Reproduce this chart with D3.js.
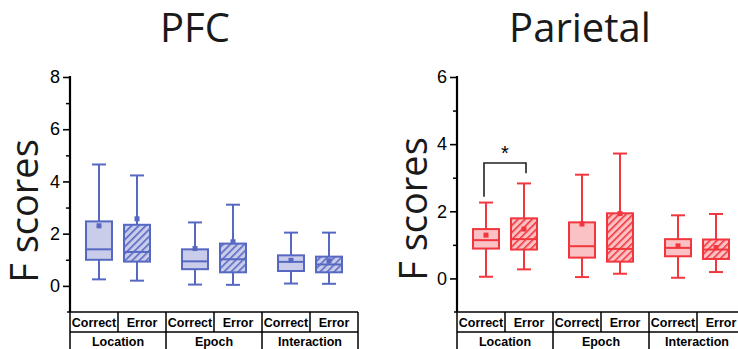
<!DOCTYPE html>
<html>
<head>
	<meta charset='utf-8'>
	<title>F scores boxplots</title>
	<script src='https://cdn.jsdelivr.net/npm/d3@7'></script>
	<style>
		body { margin: 0; background: #fff; }
	</style>
</head>
<body>
	<svg width='738' height='349'></svg>
	<script>

		// categories
		const groups = ['Location', 'Epoch', 'Interaction']
		const conditions = ['Correct', 'Error']

		// PFC box stats, order: Location C/E, Epoch C/E, Interaction C/E
		const pfcHigh = [4.65, 4.23, 2.43, 3.11, 2.04, 2.04]
		const pfcQ3 = [2.47, 2.34, 1.40, 1.62, 1.17, 1.12]
		const pfcMedian = [1.40, 1.30, 0.94, 1.02, 0.92, 0.82]
		const pfcQ1 = [1.00, 0.93, 0.64, 0.52, 0.57, 0.52]
		const pfcLow = [0.25, 0.20, 0.05, 0.04, 0.09, 0.08]
		const pfcMean = [2.30, 2.57, 1.43, 1.69, 0.98, 0.96]

		// Parietal box stats
		const parHigh = [2.26, 2.83, 3.09, 3.72, 1.88, 1.92]
		const parQ3 = [1.47, 1.79, 1.67, 1.94, 1.17, 1.16]
		const parMedian = [1.14, 1.17, 0.96, 0.88, 0.91, 0.86]
		const parQ1 = [0.89, 0.86, 0.62, 0.50, 0.66, 0.58]
		const parLow = [0.05, 0.27, 0.04, 0.14, 0.02, 0.19]
		const parMean = [1.29, 1.47, 1.62, 1.93, 0.97, 0.92]

		// tick labels
		const pfcTicks = [0, 2, 4, 6, 8]
		const parTicks = [0, 2, 4, 6]

		// significance bracket (Parietal, Location correct vs error)
		const sigTop = 3.44, sigLeft = 2.43, sigRight = 3.13

		const svg = d3.select('svg')

		const defs = svg.append('defs')
		function hatch(id, bg, line) {
			const p = defs.append('pattern').attr('id', id)
				.attr('patternUnits', 'userSpaceOnUse')
				.attr('width', 5).attr('height', 5)
				.attr('patternTransform', 'rotate(45)')
			p.append('rect').attr('width', 5).attr('height', 5).attr('fill', bg)
			p.append('line').attr('x1', 0).attr('y1', 0).attr('x2', 0).attr('y2', 5)
				.attr('stroke', line).attr('stroke-width', 3.2)
		}
		hatch('hatchBlue', '#c9cdea', '#5668c2')
		hatch('hatchRed', '#fac2c4', '#f2363e')

		const axisTop = 77, axisBottom = 312, rowH = 20

		function panel(opt) {
			const g = svg.append('g')
			const y = d3.scaleLinear().domain([-1, opt.max]).range([axisBottom, axisTop])
			const xGroup = d3.scaleBand().domain(groups).range([opt.x0, opt.x0 + 288])
			const xCond = d3.scalePoint().domain(conditions).range([0, xGroup.bandwidth()]).padding(0.763)

			// title
			g.append('text').attr('x', opt.titleX).attr('y', 42)
				.attr('text-anchor', 'middle')
				.style('font-family', '"Open Sans", sans-serif')
				.style('font-size', '40px').attr('fill', '#1a1a1a')
				.text(opt.title)

			// y label
			g.append('text')
				.attr('transform', `translate(${opt.labelX}, ${opt.labelY}) rotate(-90)`)
				.attr('text-anchor', 'middle')
				.style('font-family', '"Open Sans", sans-serif')
				.style('font-size', '38px').attr('fill', '#1a1a1a')
				.text('F scores')

			// y axis: major + minor ticks
			const minor = d3.range(1, opt.max, 2)
			g.append('g').attr('transform', `translate(${opt.x0}, 0)`)
				.call(d3.axisLeft(y).tickValues(minor).tickSize(4).tickFormat(''))
				.call(a => a.select('.domain').remove())
				.selectAll('line').attr('stroke', '#000').attr('stroke-width', 1.5)
			const ax = g.append('g').attr('transform', `translate(${opt.x0}, 0)`)
				.call(d3.axisLeft(y).tickValues(opt.ticks).tickFormat(d3.format('d'))
					.tickSize(7).tickPadding(3).tickSizeOuter(0))
			ax.select('.domain').attr('stroke', '#000').attr('stroke-width', 2.2)
				.attr('d', `M0,${axisTop - 1}V${axisBottom}`)
			ax.selectAll('.tick line').attr('stroke', '#000').attr('stroke-width', 1.6)
			ax.selectAll('.tick text').attr('fill', '#000')
				.style('font-family', '"Liberation Sans", Arial, sans-serif')
				.style('font-size', '18px')

			// boxes
			const data = []
			groups.forEach((grp, gi) => conditions.forEach((c, ci) => {
				const i = gi * 2 + ci
				data.push({ grp, c, high: opt.high[i], q3: opt.q3[i], med: opt.med[i], q1: opt.q1[i], low: opt.low[i], mean: opt.mean[i] })
			}))
			const bw = 26, cap = 14
			const box = g.selectAll('.box').data(data).enter().append('g')
				.attr('transform', d => `translate(${xGroup(d.grp) + xCond(d.c)}, 0)`)
				.attr('stroke', opt.stroke).attr('stroke-width', 2)
			box.append('line').attr('x1', 0).attr('x2', 0).attr('y1', d => y(d.high)).attr('y2', d => y(d.q3))
			box.append('line').attr('x1', 0).attr('x2', 0).attr('y1', d => y(d.q1)).attr('y2', d => y(d.low))
			box.append('line').attr('x1', -cap / 2).attr('x2', cap / 2).attr('y1', d => y(d.high)).attr('y2', d => y(d.high))
			box.append('line').attr('x1', -cap / 2).attr('x2', cap / 2).attr('y1', d => y(d.low)).attr('y2', d => y(d.low))
			box.append('rect').attr('x', -bw / 2).attr('width', bw)
				.attr('y', d => y(d.q3)).attr('height', d => y(d.q1) - y(d.q3))
				.attr('fill', d => d.c === 'Error' ? `url(#${opt.hatch})` : opt.fill)
			box.append('line').attr('x1', -bw / 2).attr('x2', bw / 2).attr('y1', d => y(d.med)).attr('y2', d => y(d.med))
			box.append('rect').attr('x', -2.5).attr('width', 5).attr('y', d => y(d.mean) - 2.5).attr('height', 5)
				.attr('fill', opt.stroke).attr('stroke', 'none')

			// category table under the axis
			const t = g.append('g').attr('stroke', '#000').attr('stroke-width', 1.5)
			const x1 = opt.x0 + 288
			t.append('line').attr('x1', opt.x0 - 3).attr('x2', x1).attr('y1', axisBottom).attr('y2', axisBottom)
			t.append('line').attr('x1', opt.x0).attr('x2', x1).attr('y1', axisBottom + rowH).attr('y2', axisBottom + rowH)
			t.append('line').attr('x1', opt.x0).attr('x2', opt.x0).attr('y1', axisBottom).attr('y2', 349)
			groups.forEach(grp => {
				const gx = xGroup(grp), half = xGroup.bandwidth() / 2
				t.append('line').attr('x1', gx + half).attr('x2', gx + half).attr('y1', axisBottom).attr('y2', axisBottom + rowH)
				t.append('line').attr('x1', gx + 2 * half).attr('x2', gx + 2 * half).attr('y1', axisBottom).attr('y2', 349)
				conditions.forEach((c, ci) => {
					g.append('text').attr('x', gx + half * ci + half / 2).attr('y', axisBottom + 15)
						.attr('text-anchor', 'middle')
						.style('font-family', '"Liberation Sans", Arial, sans-serif')
						.style('font-size', '12.5px').style('font-weight', 'bold')
						.text(c)
				})
				g.append('text').attr('x', gx + half).attr('y', axisBottom + rowH + 14)
					.attr('text-anchor', 'middle')
					.style('font-family', '"Liberation Sans", Arial, sans-serif')
					.style('font-size', '12.5px').style('font-weight', 'bold')
					.text(grp)
			})
			return { y, xGroup, xCond }
		}

		panel({
			title: 'PFC', titleX: 195, labelX: 38, labelY: 211, x0: 70, max: 8, ticks: pfcTicks,
			high: pfcHigh, q3: pfcQ3, med: pfcMedian, q1: pfcQ1, low: pfcLow, mean: pfcMean,
			stroke: '#5668c2', fill: '#c9cdea', hatch: 'hatchBlue'
		})

		const par = panel({
			title: 'Parietal', titleX: 580, labelX: 427, labelY: 209, x0: 457, max: 6, ticks: parTicks,
			high: parHigh, q3: parQ3, med: parMedian, q1: parQ1, low: parLow, mean: parMean,
			stroke: '#f2363e', fill: '#fac2c4', hatch: 'hatchRed'
		})

		// significance bracket
		const bx0 = par.xGroup('Location') + par.xCond('Correct') - 2
		const bx1 = par.xGroup('Location') + par.xCond('Error') + 2
		svg.append('path')
			.attr('d', `M${bx0},${par.y(sigLeft)}V${par.y(sigTop)}H${bx1}V${par.y(sigRight)}`)
			.attr('fill', 'none').attr('stroke', '#222').attr('stroke-width', 1.6)
		svg.append('text').attr('x', (bx0 + bx1) / 2).attr('y', par.y(sigTop) - 3)
			.attr('text-anchor', 'middle')
			.style('font-family', '"Liberation Sans", Arial, sans-serif').style('font-size', '20px')
			.text('*')

	</script>
</body>
</html>
